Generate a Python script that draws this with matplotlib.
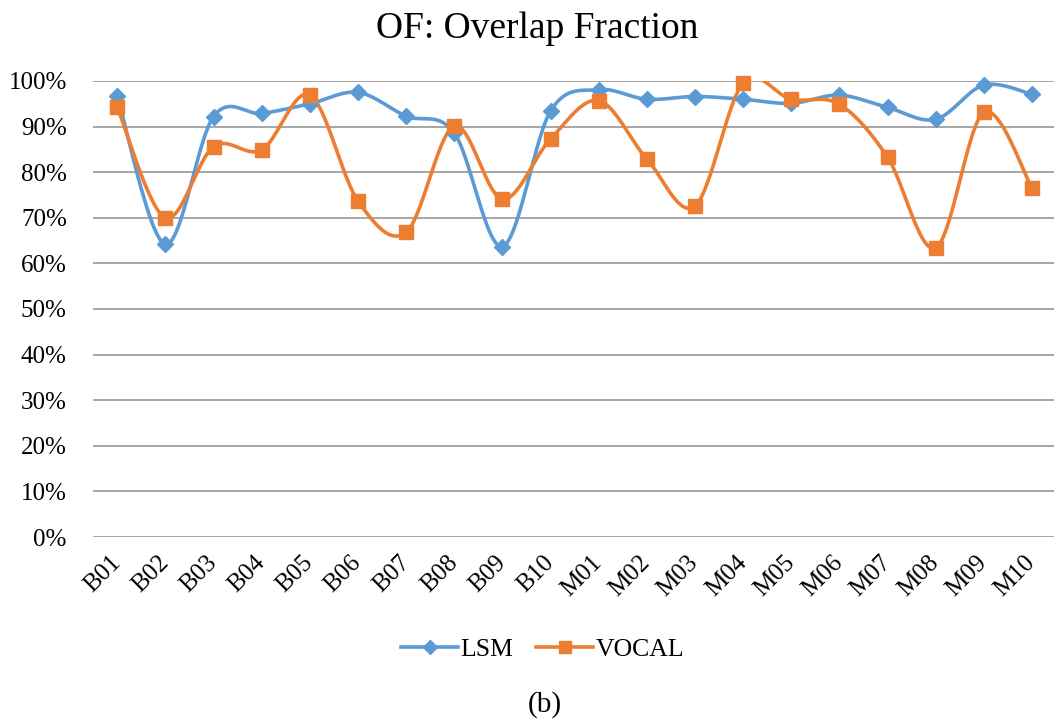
import numpy as np
import matplotlib.pyplot as plt
from matplotlib.ticker import PercentFormatter

plt.rcParams['font.family'] = ['Liberation Serif', 'DejaVu Serif']

# Datos
muestras = ['B01', 'B02', 'B03', 'B04', 'B05', 'B06', 'B07', 'B08', 'B09', 'B10',
            'M01', 'M02', 'M03', 'M04', 'M05', 'M06', 'M07', 'M08', 'M09', 'M10']
lsm = [96.7, 64.2, 92.2, 92.9, 95.0, 97.5, 92.3, 88.6, 63.7, 93.4,
       98.1, 96.0, 96.6, 96.0, 95.1, 96.9, 94.2, 91.6, 99.1, 97.1]
vocal = [94.2, 70.0, 85.6, 84.9, 96.9, 73.7, 66.8, 90.1, 74.1, 87.3,
         95.7, 82.9, 72.6, 99.5, 96.0, 94.9, 83.3, 63.4, 93.1, 76.6]


def suavizar(y, n=30):
    # curva tipo Excel: Bezier cubica con puntos de control (P[i+1]-P[i-1])/6
    x = np.arange(len(y), dtype=float)
    p = np.column_stack([x, np.asarray(y, dtype=float)])
    ext = np.vstack([p[0], p, p[-1]])
    t = np.linspace(0, 1, n)[:, None]
    partes = []
    for i in range(len(p) - 1):
        p0, p1 = ext[i + 1], ext[i + 2]
        c1 = p0 + (ext[i + 2] - ext[i]) / 6
        c2 = p1 - (ext[i + 3] - ext[i + 1]) / 6
        b = ((1 - t) ** 3) * p0 + 3 * ((1 - t) ** 2) * t * c1 + 3 * (1 - t) * t ** 2 * c2 + t ** 3 * p1
        partes.append(b if i == 0 else b[1:])
    b = np.vstack(partes)
    return b[:, 0], b[:, 1]


fig = plt.figure(figsize=(10.54, 7.26), dpi=100)
ax = fig.add_axes([93.2 / 1054, 189 / 726, 962.8 / 1054, 456 / 726])

azul = '#5B9BD5'
naranja = '#ED7D31'
x = np.arange(len(muestras))

for datos, color, marca, tam, nombre in [(lsm, azul, 'D', 8.5, 'LSM'), (vocal, naranja, 's', 10, 'VOCAL')]:
    xs, ys = suavizar(datos)
    ax.plot(xs, ys, color=color, lw=2.6, zorder=3)
    ax.plot(x, datos, ls='none', marker=marca, ms=tam, color=color, clip_on=False, zorder=4)
    ax.plot([], [], color=color, lw=2.6, marker=marca, ms=tam * 0.8, label=nombre)

ax.set_xlim(-0.5, len(muestras) - 0.5)
ax.set_ylim(0, 100)
ax.set_yticks(np.arange(0, 101, 10))
ax.yaxis.set_major_formatter(PercentFormatter(decimals=0))
ax.set_xticks(x)
ax.set_xticklabels(muestras, rotation=45, ha='right', va='center', rotation_mode='anchor')
ax.tick_params(axis='both', length=0, labelsize=18)
ax.tick_params(axis='y', pad=19)
ax.tick_params(axis='x', pad=16)
ax.grid(axis='y', color='#A6A6A6', lw=1.4)
ax.set_axisbelow(True)
for s in ax.spines.values():
    s.set_visible(False)

fig.text(0.51, 0.961, 'OF: Overlap Fraction', ha='center', va='center', fontsize=27)
fig.legend(loc='center', bbox_to_anchor=(0.515, 0.105), ncol=2, frameon=False,
           fontsize=18.5, handlelength=2.2, handletextpad=0.1, columnspacing=0.9)
fig.text(0.517, 0.030, '(b)', ha='center', va='center', fontsize=21)

fig.savefig('out.png', dpi=100)
